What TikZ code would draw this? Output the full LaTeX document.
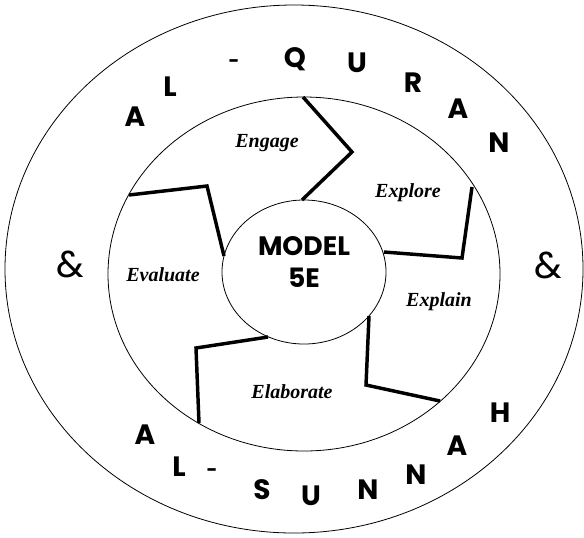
\documentclass[tikz,border=0pt]{standalone}
\usepackage{fontspec}
\setmainfont{Liberation Serif}
\newfontfamily\gothic{Poppins}
\usepackage{tikz}

\begin{document}
\begin{tikzpicture}[
        x=0.75pt, y=-0.75pt,
        ring/.style={draw, line width=0.6pt},
        divider/.style={line width=2.6pt, line join=miter},
        phase/.style={font=\fontsize{15}{15}\selectfont\bfseries\itshape},
        letter/.style={font=\gothic\fontsize{21}{21}\selectfont\bfseries},
        dashmark/.style={font=\gothic\fontsize{14}{14}\selectfont\bfseries},
        amp/.style={font=\gothic\fontsize{28}{28}\selectfont},
        core/.style={font=\gothic\fontsize{20}{24}\selectfont\bfseries, align=center}
    ]
    \useasboundingbox (0,0) rectangle (584,537);

    % Rings
    \draw[ring] (294,269) ellipse [x radius=289, y radius=264];
    \draw[ring] (304,274) ellipse [x radius=196, y radius=177];
    \draw[ring] (304,272) ellipse [x radius=82, y radius=72];

    % Centre
    \node[core] (model) at (304,262) {MODEL\\5E};

    % Five phases
    \node[phase] (engage) at (267,143) {Engage};
    \node[phase] (explore) at (408,193) {Explore};
    \node[phase] (explain) at (439,302) {Explain};
    \node[phase] (elaborate) at (292,392) {Elaborate};
    \node[phase] (evaluate) at (163,275) {Evaluate};

    % Dividers
    \draw[divider] (303,97) -- (352,152) -- (302,200);
    \draw[divider] (472,187) -- (462,258) -- (384,252);
    \draw[divider] (369,316) -- (366,385) -- (440,401);
    \draw[divider] (268,337) -- (196,348) -- (199,423);
    \draw[divider] (129,195) -- (207,186) -- (224,256);

    % AL-QURAN
    \node[letter] (q1) at (135,117) {A};
    \node[letter] (q2) at (170,87) {L};
    \node[dashmark] (q3) at (234,64) {-};
    \node[letter] (q4) at (295,59) {Q};
    \node[letter] (q5) at (357,63) {U};
    \node[letter] (q6) at (413,83) {R};
    \node[letter] (q7) at (458,109) {A};
    \node[letter] (q8) at (499,143) {N};

    % AL-SUNNAH
    \node[letter] (s1) at (145,435) {A};
    \node[letter] (s2) at (179,467) {L};
    \node[dashmark] (s3) at (212,473) {-};
    \node[letter] (s4) at (262,490) {S};
    \node[letter] (s5) at (311,496) {U};
    \node[letter] (s6) at (368,490) {N};
    \node[letter] (s7) at (416,475) {N};
    \node[letter] (s8) at (457,446) {A};
    \node[letter] (s9) at (500,413) {H};

    % Joins
    \node[amp] (ampl) at (70,264) {\&};
    \node[amp] (ampr) at (548,265) {\&};

\end{tikzpicture}
\end{document}
